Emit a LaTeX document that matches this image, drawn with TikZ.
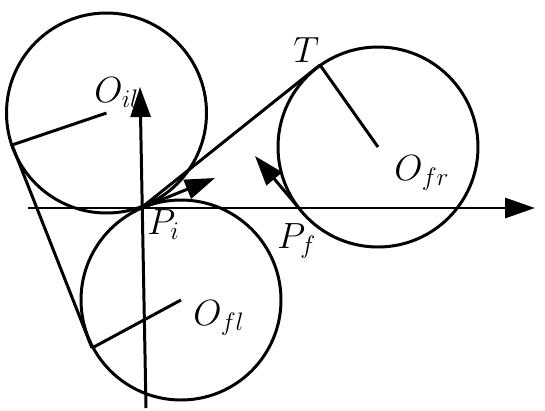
\documentclass[tikz,border=0pt]{standalone}
\usetikzlibrary{arrows.meta}
\begin{document}
\begin{tikzpicture}[x=0.02cm, y=-0.02cm, line width=1.7pt,
  bigtip/.style={-{Triangle[length=0.6cm,width=0.4cm]}},
  lbl/.style={font=\fontsize{21}{25}\selectfont, inner sep=0pt, anchor=base west}]
\useasboundingbox (0,0) rectangle (545,410);
\coordinate (Oil) at (106.5,113);
\coordinate (Ofl) at (181,300);
\coordinate (Ofr) at (378,147);
\coordinate (Pi) at (141,208);
\coordinate (Pf) at (298.8,208);
\coordinate (T) at (320,65);
\coordinate (Al) at (12,145);
\coordinate (Bl) at (92,348);
\coordinate (xs) at (28,208);
\coordinate (xe) at (535,208);
\coordinate (ys) at (146,408);
\coordinate (ye) at (140,87);
\coordinate (vi) at (215,178);
\coordinate (vf) at (255,156);

\draw (Oil) circle[radius=100];
\draw (Ofl) circle[radius=100];
\draw (Ofr) circle[radius=100];
\draw (Oil) -- (Al);
\draw (Ofl) -- (Bl);
\draw (Ofr) -- (T);
\draw (Al) -- (Bl);
\draw (Pi) -- (T);

\draw[bigtip] (xs) -- (xe);
\draw[bigtip] (ys) -- (ye);
\draw[bigtip] (Pi) -- (vi);
\draw[bigtip] (Pf) -- (vf);

\node[lbl] (lOil) at (93,102) {$O_{il}$};
\node[lbl] (lT) at (292,62) {$T$};
\node[lbl] (lOfr) at (393,180) {$O_{fr}$};
\node[lbl] (lPi) at (146,234) {$P_i$};
\node[lbl] (lPf) at (276,248) {$P_f$};
\node[lbl] (lOfl) at (192,325) {$O_{fl}$};
\end{tikzpicture}
\end{document}
